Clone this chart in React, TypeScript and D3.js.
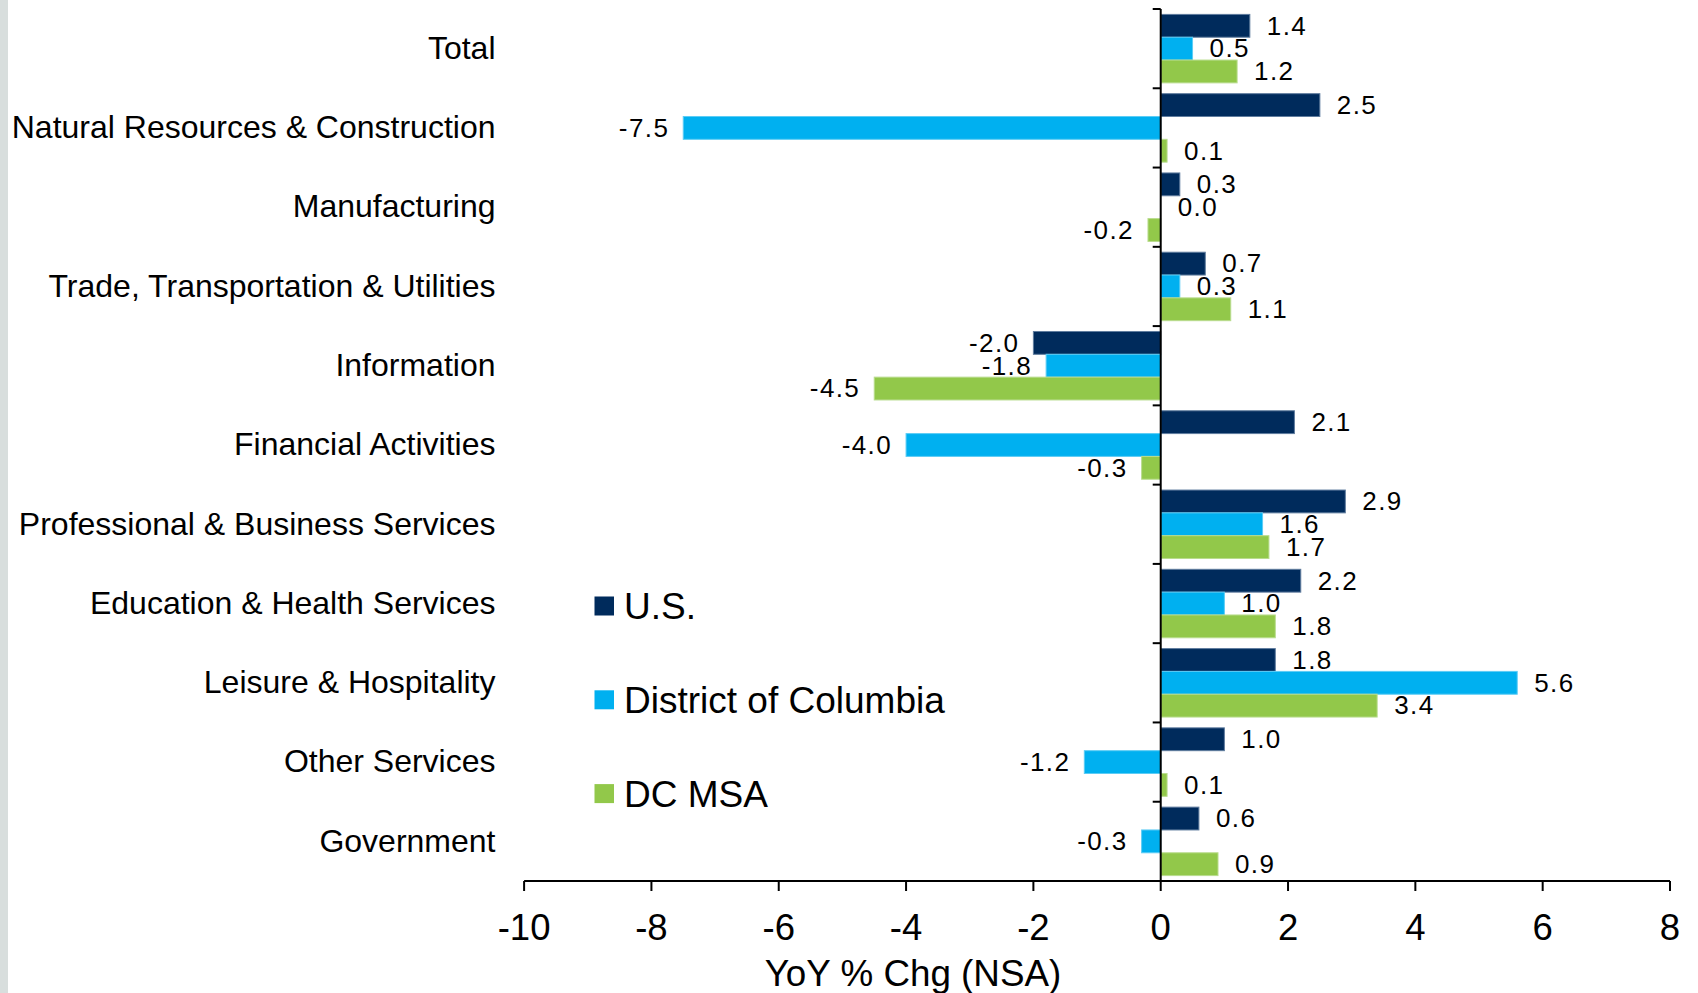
import React from "react";
import * as d3 from "d3";

const categories = [
  "Total",
  "Natural Resources & Construction",
  "Manufacturing",
  "Trade, Transportation & Utilities",
  "Information",
  "Financial Activities",
  "Professional & Business Services",
  "Education & Health Services",
  "Leisure & Hospitality",
  "Other Services",
  "Government",
];
const seriesNames = ["U.S.", "District of Columbia", "DC MSA"];
const usValues = [1.4, 2.5, 0.3, 0.7, -2.0, 2.1, 2.9, 2.2, 1.8, 1.0, 0.6];
const dcValues = [0.5, -7.5, 0.0, 0.3, -1.8, -4.0, 1.6, 1.0, 5.6, -1.2, -0.3];
const msaValues = [1.2, 0.1, -0.2, 1.1, -4.5, -0.3, 1.7, 1.8, 3.4, 0.1, 0.9];
const xTicks = [-10, -8, -6, -4, -2, 0, 2, 4, 6, 8];
const xTitle = "YoY % Chg (NSA)";
const colors = ["#002B5C", "#00B0F0", "#92C84A"];
const strokes = ["#5F7C9E", "#5CCCF5", "#B9DC8E"];

const W = 1698;
const H = 993;
const FONT = "'Liberation Sans', Arial, sans-serif";

export default function App() {
  const x = d3.scaleLinear().domain([-10, 8]).range([524.1, 1670]);
  const y = d3.scaleBand<string>().domain(categories).range([9, 881]).padding(0);
  const bw = y.bandwidth();
  const pad = 5.4;
  const y1 = d3.scaleBand<string>().domain(seriesNames).range([pad, bw - pad]).padding(0);
  const seriesVals = [usValues, dcValues, msaValues];
  const x0 = x(0);
  const fmt = (v: number) => v.toFixed(1);

  const boundaries = d3.range(categories.length + 1).map((i) => 9 + i * bw);

  return (
    <svg
      width={W}
      height={H}
      style={{ position: "absolute", left: 0, top: 0, background: "#fff" }}
      fontFamily={FONT}
    >
      <rect x={0} y={0} width={8} height={H} fill="#D8DEDD" />

      {/* bars */}
      {categories.map((c, ci) => (
        <g key={c} transform={`translate(0,${y(c)})`}>
          {seriesNames.map((s, si) => {
            const v = seriesVals[si][ci];
            const xv = x(v);
            const by = y1(s)!;
            const bh = y1.bandwidth();
            return (
              <g key={s}>
                {v !== 0 && (
                  <rect
                    x={Math.min(xv, x0)}
                    y={by}
                    width={Math.abs(xv - x0)}
                    height={bh}
                    fill={colors[si]}
                    stroke={strokes[si]}
                    strokeWidth={1}
                  />
                )}
                <text
                  x={v >= 0 ? Math.max(xv, x0) + 17 : xv - 14}
                  y={by + bh / 2}
                  dy="0.34em"
                  fontSize={26}
                  letterSpacing={1.4}
                  textAnchor={v >= 0 ? "start" : "end"}
                  fill="#000"
                >
                  {fmt(v)}
                </text>
              </g>
            );
          })}
        </g>
      ))}

      {/* category labels */}
      {categories.map((c) => (
        <text
          key={c}
          x={495.5}
          y={y(c)! + bw / 2}
          dy="0.32em"
          fontSize={32}
          textAnchor="end"
          fill="#000"
        >
          {c}
        </text>
      ))}

      {/* zero axis */}
      <line x1={x0} x2={x0} y1={9} y2={881} stroke="#000" strokeWidth={2} />
      {boundaries.map((b, i) => (
        <line key={i} x1={x0 - 8} x2={x0} y1={b} y2={b} stroke="#000" strokeWidth={2} />
      ))}

      {/* x axis */}
      <line x1={x(-10)} x2={x(8)} y1={881} y2={881} stroke="#000" strokeWidth={2} />
      {xTicks.map((t) => (
        <g key={t}>
          <line x1={x(t)} x2={x(t)} y1={881} y2={891} stroke="#000" strokeWidth={2} />
          <text x={x(t)} y={940} fontSize={36.5} textAnchor="middle" fill="#000">
            {t}
          </text>
        </g>
      ))}
      <text x={913} y={986} fontSize={36.8} textAnchor="middle" fill="#000">
        {xTitle}
      </text>

      {/* legend */}
      {seriesNames.map((s, i) => {
        const cy = 606 + i * 93.8;
        return (
          <g key={s}>
            <rect x={594.5} y={cy - 9.5} width={19.5} height={19} fill={colors[i]} />
            <text x={624} y={cy} dy="0.36em" fontSize={37} fill="#000">
              {s}
            </text>
          </g>
        );
      })}
    </svg>
  );
}
